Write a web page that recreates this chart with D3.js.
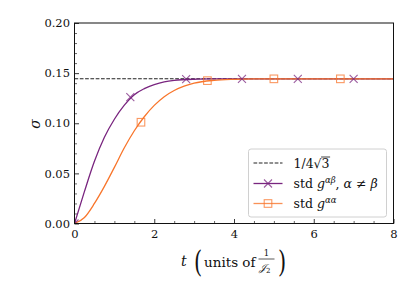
<!DOCTYPE html>
<html>
<head>
<meta charset="utf-8">
<script src="https://cdn.jsdelivr.net/npm/d3@7/dist/d3.min.js"></script>
<style>
  html, body { margin: 0; padding: 0; background: #fff; }
  svg text { font-family: "DejaVu Serif", "Liberation Serif", serif; fill: #111; }
</style>
</head>
<body>
<svg id="chart" width="415" height="295"></svg>
<script>
// values
const tOff = [0, 0.25, 0.5, 0.75, 1.0, 1.25, 1.5, 1.75, 2.0, 2.25, 2.5, 3.0, 3.5, 4.0, 5.0, 6.0, 7.0, 8.0];
const sigmaOff = [0, 0.032, 0.062, 0.086, 0.104, 0.118, 0.1285, 0.1345, 0.1385, 0.1413, 0.1428, 0.1439, 0.1442, 0.1443, 0.1443, 0.1443, 0.1443, 0.1443];
const tDiag = [0, 0.25, 0.5, 0.75, 1.0, 1.25, 1.5, 1.75, 2.0, 2.25, 2.5, 2.75, 3.0, 3.5, 4.0, 4.5, 5.0, 6.0, 7.0, 8.0];
const sigmaDiag = [0, 0.006, 0.020, 0.037, 0.056, 0.0755, 0.0925, 0.1065, 0.1178, 0.1265, 0.1327, 0.137, 0.1400, 0.1428, 0.1438, 0.1442, 0.1443, 0.1443, 0.1443, 0.1443];
const markOffT = [0, 1.4, 2.8, 4.2, 5.6, 7.0];
const markOffV = [0, 0.126, 0.1441, 0.1443, 0.1443, 0.1443];
const markDiagT = [1.667, 3.333, 5.0, 6.667];
const markDiagV = [0.1010, 0.1425, 0.1443, 0.1443];
const plateau = 1 / (4 * Math.sqrt(3));
const xTicks = [0, 2, 4, 6, 8];
const yTicks = [0.00, 0.05, 0.10, 0.15, 0.20];

const purple = '#79257f', orange = '#f8762c';

const svg = d3.select('#chart');
const margin = { top: 23, right: 21.5, bottom: 71.5, left: 74.5 };
const W = 415, H = 295;
const iw = W - margin.left - margin.right, ih = H - margin.top - margin.bottom;

const x = d3.scaleLinear().domain([0, 8]).range([0, iw]);
const y = d3.scaleLinear().domain([0, 0.20]).range([ih, 0]);

const g = svg.append('g').attr('transform', 'translate(' + margin.left + ',' + margin.top + ')');

g.append('clipPath').attr('id', 'clip')
  .append('rect').attr('width', iw).attr('height', ih);

// minor ticks
const xMinor = d3.range(0, 8.01, 0.5).filter(v => xTicks.indexOf(v) < 0);
const yMinor = d3.range(0, 0.2001, 0.01).map(v => +v.toFixed(2)).filter(v => yTicks.indexOf(v) < 0);

function styleAxis(a, w) {
  a.attr('font-family', null).attr('font-size', null);
  a.select('.domain').remove();
  a.selectAll('line').attr('stroke', '#222').attr('stroke-width', w);
  a.selectAll('text').attr('font-size', 11.5);
}

g.append('g').attr('transform', 'translate(0,' + ih + ')')
  .call(d3.axisBottom(x).tickValues(xMinor).tickSize(-2.5).tickFormat(''))
  .call(styleAxis, 0.7);
g.append('g')
  .call(d3.axisLeft(y).tickValues(yMinor).tickSize(-2.5).tickFormat(''))
  .call(styleAxis, 0.7);

g.append('g').attr('transform', 'translate(0,' + ih + ')')
  .call(d3.axisBottom(x).tickValues(xTicks).tickSize(-4.5).tickPadding(6.5).tickFormat(d3.format('d')))
  .call(styleAxis, 0.9);
g.append('g')
  .call(d3.axisLeft(y).tickValues(yTicks).tickSize(-4.5).tickPadding(4.5).tickFormat(d3.format('.2f')))
  .call(styleAxis, 0.9);

const plot = g.append('g').attr('clip-path', 'url(#clip)');

// plateau 1/(4 sqrt 3)
plot.append('line')
  .attr('x1', x(0)).attr('x2', x(8))
  .attr('y1', y(plateau)).attr('y2', y(plateau))
  .attr('stroke', '#222').attr('stroke-width', 1.1)
  .attr('stroke-dasharray', '3.7,1.6');

const line = d3.line().curve(d3.curveMonotoneX).x(d => x(d[0])).y(d => y(d[1]));

plot.append('path').datum(tOff.map((t, i) => [t, sigmaOff[i]]))
  .attr('d', line).attr('fill', 'none').attr('stroke', purple).attr('stroke-width', 1.3);
plot.append('path').datum(tDiag.map((t, i) => [t, sigmaDiag[i]]))
  .attr('d', line).attr('fill', 'none').attr('stroke', orange).attr('stroke-width', 1.3);

function cross(sel, cx, cy, r, col) {
  sel.append('path')
    .attr('d', 'M' + (cx - r) + ',' + (cy - r) + 'L' + (cx + r) + ',' + (cy + r) +
               'M' + (cx - r) + ',' + (cy + r) + 'L' + (cx + r) + ',' + (cy - r))
    .attr('stroke', col).attr('stroke-width', 1.1).attr('fill', 'none').attr('opacity', 0.75);
}
function square(sel, cx, cy, r, col) {
  sel.append('rect')
    .attr('x', cx - r).attr('y', cy - r).attr('width', 2 * r).attr('height', 2 * r)
    .attr('stroke', col).attr('stroke-width', 1.1).attr('fill', 'none').attr('opacity', 0.75);
}

markOffT.forEach((t, i) => cross(plot, x(t), y(markOffV[i]), 4, purple));
markDiagT.forEach((t, i) => square(plot, x(t), y(markDiagV[i]), 3.8, orange));

// frame
g.append('rect').attr('width', iw).attr('height', ih)
  .attr('fill', 'none').attr('stroke', '#111').attr('stroke-width', 1);

// y label
svg.append('text')
  .attr('transform', 'translate(40,124) rotate(-90)')
  .attr('text-anchor', 'middle').attr('font-size', 14).attr('font-style', 'italic')
  .text('σ');

// x label: t (units of 1/J2)
const xl = svg.append('g');
xl.append('text').attr('x', 181).attr('y', 266).attr('font-size', 14).attr('font-style', 'italic').text('t');
xl.append('text').attr('x', 194).attr('y', 272).attr('font-size', 30)
  .attr('transform', 'translate(194,272) scale(0.7,1) translate(-194,-272)').text('(');
xl.append('text').attr('x', 204).attr('y', 266.5).attr('font-size', 13.5).text('units of');
xl.append('text').attr('x', 266.5).attr('y', 256).attr('font-size', 8.5).attr('text-anchor', 'middle').text('1');
xl.append('line').attr('x1', 258.5).attr('x2', 274.5).attr('y1', 259).attr('y2', 259)
  .attr('stroke', '#111').attr('stroke-width', 0.7);
const jt = xl.append('text').attr('x', 259).attr('y', 270.5).attr('font-size', 10).attr('font-style', 'italic');
jt.append('tspan').text('𝒥');
jt.append('tspan').attr('font-size', 7).attr('font-style', 'normal').attr('dy', 2).text('2');
xl.append('text').attr('x', 278).attr('y', 272).attr('font-size', 30)
  .attr('transform', 'translate(278,272) scale(0.7,1) translate(-278,-272)').text(')');

// legend
const lg = svg.append('g');
lg.append('rect').attr('x', 248.5).attr('y', 149).attr('width', 138).attr('height', 68).attr('rx', 2.5)
  .attr('fill', '#fff').attr('fill-opacity', 0.85).attr('stroke', '#d0d0d0').attr('stroke-width', 1);

const hx0 = 253.5, hx1 = 282.5, tx = 293.5;
const rows = [163, 183.5, 203.5];

lg.append('line').attr('x1', hx0).attr('x2', hx1).attr('y1', rows[0]).attr('y2', rows[0])
  .attr('stroke', '#222').attr('stroke-width', 1.1).attr('stroke-dasharray', '3.7,1.6');
lg.append('line').attr('x1', hx0).attr('x2', hx1).attr('y1', rows[1]).attr('y2', rows[1])
  .attr('stroke', purple).attr('stroke-width', 1.3);
cross(lg, (hx0 + hx1) / 2, rows[1], 4, purple);
lg.append('line').attr('x1', hx0).attr('x2', hx1).attr('y1', rows[2]).attr('y2', rows[2])
  .attr('stroke', orange).attr('stroke-width', 1.3).attr('opacity', 0.8);
square(lg, (hx0 + hx1) / 2, rows[2], 3.8, orange);

const fs = 12.5;
const t1 = lg.append('text').attr('x', tx).attr('y', rows[0] + 4.5).attr('font-size', fs);
t1.append('tspan').text('1/4√');
const three = t1.append('tspan').text('3');
const bb = three.node().getBBox();
lg.append('line').attr('x1', bb.x - 0.5).attr('x2', bb.x + bb.width + 0.5)
  .attr('y1', bb.y + 1.5).attr('y2', bb.y + 1.5).attr('stroke', '#111').attr('stroke-width', 0.8);

const t2 = lg.append('text').attr('x', tx).attr('y', rows[1] + 4.5).attr('font-size', fs);
t2.append('tspan').text('std ');
t2.append('tspan').attr('font-style', 'italic').text('g');
t2.append('tspan').attr('font-style', 'italic').attr('font-size', 8.5).attr('dy', -5).text('αβ');
t2.append('tspan').attr('dy', 5).text(', ');
t2.append('tspan').attr('font-style', 'italic').text('α');
t2.append('tspan').text(' ≠ ');
t2.append('tspan').attr('font-style', 'italic').text('β');

const t3 = lg.append('text').attr('x', tx).attr('y', rows[2] + 4.5).attr('font-size', fs);
t3.append('tspan').text('std ');
t3.append('tspan').attr('font-style', 'italic').text('g');
t3.append('tspan').attr('font-style', 'italic').attr('font-size', 8.5).attr('dy', -5).text('αα');
</script>
</body>
</html>
